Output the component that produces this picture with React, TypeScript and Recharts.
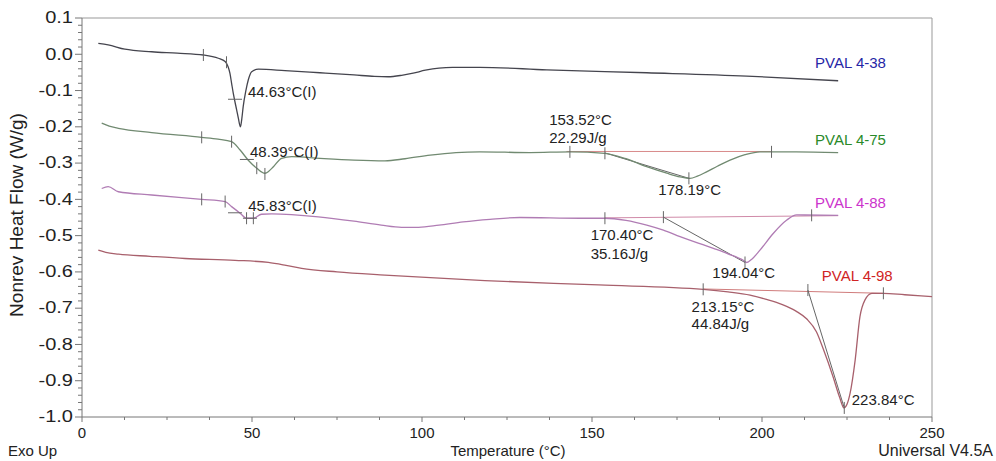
import React from "react";
import { ComposedChart, Line, Scatter, XAxis, YAxis, ReferenceLine } from "recharts";

type Pt = [number, number];

// temperature (°C), nonreversing heat flow (W/g)
const pval438: Pt[] = [
  [4.8, 0.03], [7.7, 0.026], [12.6, 0.014], [20.5, 0.007], [28, 0.003], [35.7, -0.002],
  [40.1, -0.011], [42.1, -0.02], [43.0, -0.035], [43.5, -0.052], [44.0, -0.08], [44.5, -0.108],
  [45.5, -0.154], [46.0, -0.177], [46.6, -0.2], [47.0, -0.178], [47.4, -0.145], [48.2, -0.1],
  [48.9, -0.071], [49.9, -0.048], [51.9, -0.041], [59.7, -0.045], [70, -0.051], [80, -0.057],
  [86, -0.061], [90, -0.062], [94, -0.058], [97.4, -0.052], [101, -0.044], [105, -0.038],
  [109, -0.036], [117, -0.036], [136.7, -0.043], [166.1, -0.051], [195.5, -0.06], [222.4, -0.073],
];
const pval475: Pt[] = [
  [5.8, -0.19], [8, -0.198], [10.7, -0.204], [20.5, -0.216], [35.2, -0.229], [40, -0.234],
  [44.0, -0.241], [46.5, -0.264], [48.9, -0.292], [51.4, -0.314], [53.8, -0.328], [55, -0.322],
  [56.3, -0.31], [58.7, -0.287], [61.7, -0.282], [70, -0.287], [80, -0.292], [89.1, -0.294],
  [95, -0.288], [102.4, -0.278], [110, -0.271], [117, -0.269], [131.8, -0.271], [143.5, -0.269],
  [153.8, -0.273], [160, -0.288], [166.1, -0.31], [172, -0.328], [175.9, -0.338], [178.8, -0.342],
  [181, -0.336], [183.7, -0.324], [187, -0.308], [190.6, -0.292], [195, -0.277], [199.4, -0.269],
  [210, -0.269], [222.4, -0.271],
];
const pval488: Pt[] = [
  [5.8, -0.37], [7.7, -0.365], [10.7, -0.379], [20.5, -0.388], [35.2, -0.4], [42.1, -0.406],
  [44.0, -0.42], [46.5, -0.438], [48.4, -0.452], [50.4, -0.452], [52.8, -0.441], [55.8, -0.44],
  [69.5, -0.448], [80, -0.46], [88, -0.471], [94, -0.477], [99, -0.477], [105, -0.471],
  [112.1, -0.462], [120, -0.455], [128.8, -0.45], [146.5, -0.452], [153.8, -0.452], [160, -0.458],
  [166.1, -0.471], [171, -0.485], [175.9, -0.503], [185.7, -0.535], [190, -0.55], [194.5, -0.568],
  [195.5, -0.574], [197, -0.565], [199.4, -0.54], [203.3, -0.494], [207.3, -0.457], [210.2, -0.443],
  [222.4, -0.444],
];
const pval498: Pt[] = [
  [4.8, -0.54], [7, -0.546], [10.7, -0.551], [20, -0.557], [30.3, -0.563], [45, -0.568],
  [54.8, -0.574], [60, -0.582], [64.6, -0.59], [75, -0.6], [89.1, -0.609], [118.5, -0.624],
  [152, -0.636], [182.7, -0.648], [190, -0.655], [196.5, -0.664], [201, -0.675], [206, -0.69],
  [210, -0.708], [213.2, -0.73], [216, -0.765], [218, -0.812], [220.9, -0.889], [222.8, -0.945],
  [224.1, -0.975], [225, -0.965], [225.9, -0.935], [227.4, -0.843], [228.8, -0.724], [230.3, -0.677],
  [232.3, -0.659], [235.7, -0.659], [242, -0.663], [250, -0.668],
];

const series = [
  { name: "PVAL 4-38", points: pval438, stroke: "#45454e", labelColor: "#2626a6", label: [215.6, -0.023] },
  { name: "PVAL 4-75", points: pval475, stroke: "#718a71", labelColor: "#2a8a2a", label: [215.6, -0.236] },
  { name: "PVAL 4-88", points: pval488, stroke: "#b07cb4", labelColor: "#cc33cc", label: [215.6, -0.409] },
  { name: "PVAL 4-98", points: pval498, stroke: "#a8606c", labelColor: "#d02424", label: [217.6, -0.609] },
];

// integration baselines and onset tangents
const baselines: { from: Pt; to: Pt; color: string }[] = [
  { from: [142.5, -0.268], to: [203, -0.268], color: "#d88a8a" },
  { from: [153.8, -0.451], to: [222.4, -0.445], color: "#d08aa8" },
  { from: [182.7, -0.647], to: [235.7, -0.659], color: "#d07c7c" },
  { from: [153.8, -0.272], to: [178.5, -0.342], color: "#666" },
  { from: [171, -0.449], to: [195, -0.574], color: "#666" },
  { from: [213.5, -0.65], to: [224.2, -0.975], color: "#666" },
];

// little cursor marks the analysis software leaves on the curves
const marks: { t: number; v: number; kind: "v" | "h" }[] = [
  { t: 35.7, v: -0.002, kind: "v" }, { t: 42.5, v: -0.022, kind: "v" }, { t: 45, v: -0.124, kind: "h" },
  { t: 35.2, v: -0.229, kind: "v" }, { t: 44, v: -0.241, kind: "v" }, { t: 48.5, v: -0.29, kind: "h" },
  { t: 51.4, v: -0.314, kind: "v" }, { t: 53.8, v: -0.33, kind: "v" },
  { t: 143.5, v: -0.269, kind: "v" }, { t: 153.8, v: -0.273, kind: "v" }, { t: 178.5, v: -0.342, kind: "v" },
  { t: 202.8, v: -0.269, kind: "v" },
  { t: 35.2, v: -0.4, kind: "v" }, { t: 42.1, v: -0.406, kind: "v" }, { t: 45, v: -0.437, kind: "h" },
  { t: 48.4, v: -0.452, kind: "v" }, { t: 50.4, v: -0.452, kind: "v" }, { t: 49.4, v: -0.452, kind: "h" },
  { t: 153.8, v: -0.452, kind: "v" }, { t: 171, v: -0.449, kind: "v" }, { t: 195, v: -0.574, kind: "v" },
  { t: 214.6, v: -0.444, kind: "v" },
  { t: 182.7, v: -0.648, kind: "v" }, { t: 213.5, v: -0.65, kind: "v" }, { t: 224.2, v: -0.975, kind: "v" },
  { t: 235.7, v: -0.659, kind: "v" },
];

const notes: { t: number; v: number; text: string }[] = [
  { t: 48.8, v: -0.104, text: "44.63°C(I)" },
  { t: 49.4, v: -0.269, text: "48.39°C(I)" },
  { t: 48.9, v: -0.416, text: "45.83°C(I)" },
  { t: 137.4, v: -0.181, text: "153.52°C" },
  { t: 137.4, v: -0.23, text: "22.29J/g" },
  { t: 169.5, v: -0.372, text: "178.19°C" },
  { t: 149.6, v: -0.498, text: "170.40°C" },
  { t: 149.6, v: -0.549, text: "35.16J/g" },
  { t: 185.4, v: -0.602, text: "194.04°C" },
  { t: 179.3, v: -0.696, text: "213.15°C" },
  { t: 179.3, v: -0.742, text: "44.84J/g" },
  { t: 226.4, v: -0.953, text: "223.84°C" },
];

const xMajor = [0, 50, 100, 150, 200, 250];
const yMajor = [0.1, 0.0, -0.1, -0.2, -0.3, -0.4, -0.5, -0.6, -0.7, -0.8, -0.9, -1.0];

const font = "'Liberation Sans', Arial, sans-serif";
const xTicks = Array.from({ length: 21 }, (_, i) => i * 12.5);
const yTicks = Array.from({ length: 56 }, (_, i) => Math.round((-1 + i * 0.02) * 100) / 100);

const toRows = (pts: Pt[]) => pts.map(([t, v]) => ({ t, v }));

const XTick = (p: any) => {
  const val = p.payload.value;
  const major = xMajor.includes(val);
  return (
    <g>
      <line x1={p.x} x2={p.x} y1={p.y} y2={p.y + (major ? 5 : 3)} stroke="#777" />
      {major && (
        <text x={p.x} y={p.y + 15} textAnchor="middle" dominantBaseline="central" fontSize={15} fill="#222" fontFamily={font}>
          {val}
        </text>
      )}
    </g>
  );
};

const YTick = (p: any) => {
  const val = p.payload.value;
  const major = yMajor.some((m) => Math.abs(m - val) < 1e-6);
  return (
    <g>
      <line x1={p.x - (major ? 7 : 4)} x2={p.x} y1={p.y} y2={p.y} stroke="#777" />
      {major && (
        <text
          x={0}
          y={0}
          transform={`translate(${p.x - 9},${p.y}) scale(1.25,1)`}
          textAnchor="end"
          dominantBaseline="central"
          fontSize={16}
          fill="#222"
          fontFamily={font}
        >
          {(Math.round(val * 10) / 10 || 0).toFixed(1)}
        </text>
      )}
    </g>
  );
};

const Mark = (p: any) => {
  const { cx, cy, payload } = p;
  if (payload.kind === "h") return <line x1={cx - 7} x2={cx + 7} y1={cy} y2={cy} stroke="#666" />;
  return <line x1={cx} x2={cx} y1={cy - 6} y2={cy + 6} stroke="#666" />;
};

const Note = (p: any) => (
  <text x={p.cx} y={p.cy} dominantBaseline="central" fontSize={15} fill={p.payload.color || "#222"} fontFamily={font}>
    {p.payload.text}
  </text>
);

export default function App() {
  const seriesLabels = series.map((s) => ({ t: s.label[0], v: s.label[1], text: s.name, color: s.labelColor }));
  return (
    <div style={{ position: "absolute", left: 0, top: 0, width: 996, height: 461, background: "#fff", fontFamily: font }}>
      <ComposedChart width={996} height={461} margin={{ top: 18, right: 64, bottom: 14, left: 0 }}>
        <XAxis
          dataKey="t"
          type="number"
          domain={[0, 250]}
          ticks={xTicks}
          interval={0}
          height={30}
          tickSize={0}
          tickMargin={0}
          tickLine={false}
          tick={<XTick />}
          stroke="#777"
          allowDataOverflow
        />
        <YAxis
          dataKey="v"
          type="number"
          domain={[-1, 0.1]}
          ticks={yTicks}
          interval={0}
          width={82}
          tickSize={0}
          tickMargin={0}
          tickLine={false}
          tick={<YTick />}
          stroke="#777"
          allowDataOverflow
        />
        <ReferenceLine y={0.1} stroke="#999" />
        <ReferenceLine x={250} stroke="#999" />
        {baselines.map((b, i) => (
          <ReferenceLine
            key={"b" + i}
            segment={[{ x: b.from[0], y: b.from[1] }, { x: b.to[0], y: b.to[1] }]}
            stroke={b.color}
            strokeWidth={1}
          />
        ))}
        {series.map((s) => (
          <Line
            key={s.name}
            name={s.name}
            data={toRows(s.points)}
            dataKey="v"
            type="monotone"
            stroke={s.stroke}
            strokeWidth={1.3}
            dot={false}
            activeDot={false}
            isAnimationActive={false}
          />
        ))}
        <Scatter data={marks} dataKey="v" shape={<Mark />} isAnimationActive={false} />
        <Scatter data={notes} dataKey="v" shape={<Note />} isAnimationActive={false} />
        <Scatter data={seriesLabels} dataKey="v" shape={<Note />} isAnimationActive={false} />
      </ComposedChart>
      <div style={{ position: "absolute", left: 8, top: 442, fontSize: 15, color: "#222" }}>Exo Up</div>
      <div style={{ position: "absolute", left: 408, width: 200, top: 442, fontSize: 15, color: "#222", textAlign: "center" }}>
        Temperature (°C)
      </div>
      <div style={{ position: "absolute", right: 3, top: 442, fontSize: 16, color: "#222" }}>Universal V4.5A</div>
      <div
        style={{
          position: "absolute",
          left: 17,
          top: 215,
          fontSize: 19,
          color: "#222",
          whiteSpace: "nowrap",
          transform: "translate(-50%, -50%) rotate(-90deg)",
        }}
      >
        Nonrev Heat Flow (W/g)
      </div>
    </div>
  );
}
